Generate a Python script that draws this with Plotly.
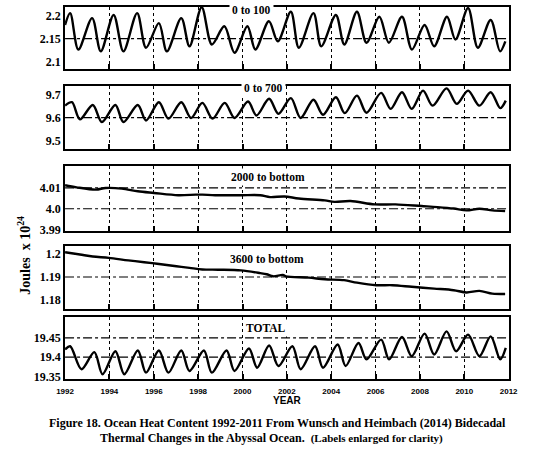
import plotly.graph_objects as go

# ---------------- data ----------------
years_0_100 = [1992.0, 1992.23, 1992.6, 1993.22, 1993.61, 1994.19, 1994.63, 1995.25, 1995.65,
               1996.23, 1996.59, 1997.24, 1997.61, 1998.16, 1998.62, 1999.18, 1999.64, 2000.22,
               2000.58, 2001.19, 2001.59, 2002.18, 2002.54, 2003.2, 2003.55, 2004.21, 2004.59,
               2005.16, 2005.59, 2006.17, 2006.6, 2007.19, 2007.64, 2008.21, 2008.64, 2009.22,
               2009.6, 2010.17, 2010.61, 2011.19, 2011.61, 2011.85]
heat_0_100 = [2.180, 2.206, 2.126, 2.195, 2.122, 2.202, 2.122, 2.206, 2.130, 2.184, 2.122,
              2.195, 2.133, 2.219, 2.137, 2.177, 2.119, 2.177, 2.126, 2.188, 2.144, 2.209,
              2.130, 2.206, 2.133, 2.202, 2.137, 2.209, 2.141, 2.198, 2.141, 2.198, 2.126,
              2.180, 2.133, 2.198, 2.148, 2.217, 2.130, 2.191, 2.122, 2.144]

years_0_700 = [1992.0, 1992.31, 1992.67, 1993.25, 1993.66, 1994.27, 1994.63, 1995.28, 1995.65,
               1996.23, 1996.66, 1997.24, 1997.68, 1998.19, 1998.65, 1999.2, 1999.64, 2000.25,
               2000.63, 2001.2, 2001.62, 2002.18, 2002.62, 2003.2, 2003.63, 2004.21, 2004.61,
               2005.16, 2005.59, 2006.25, 2006.68, 2007.19, 2007.63, 2008.14, 2008.57, 2009.2,
               2009.66, 2010.17, 2010.68, 2011.19, 2011.62, 2011.87]
heat_0_700 = [9.653, 9.668, 9.593, 9.656, 9.581, 9.656, 9.581, 9.656, 9.588, 9.668, 9.596,
              9.668, 9.599, 9.665, 9.596, 9.665, 9.599, 9.671, 9.610, 9.683, 9.617, 9.686,
              9.599, 9.679, 9.613, 9.690, 9.620, 9.697, 9.622, 9.709, 9.639, 9.712, 9.639,
              9.719, 9.653, 9.729, 9.661, 9.719, 9.653, 9.712, 9.642, 9.675]

years_2000 = [1992.0, 1992.52, 1993.39, 1993.83, 1994.56, 1995.28, 1996.01, 1997.1, 1997.9,
              1998.19, 1998.77, 1999.93, 2000.8, 2001.24, 2001.89, 2002.54, 2003.71, 2004.14,
              2004.87, 2005.96, 2006.9, 2008.07, 2008.79, 2009.52, 2010.1, 2010.68, 2011.26,
              2011.84]
heat_2000 = [4.0113, 4.0103, 4.0092, 4.0100, 4.0097, 4.0084, 4.0076, 4.0065, 4.0068, 4.0068,
             4.0065, 4.0065, 4.0065, 4.0056, 4.0059, 4.0049, 4.0040, 4.0033, 4.0037, 4.0021,
             4.0021, 4.0013, 4.0008, 4.0001, 3.9992, 4.0000, 3.9992, 3.9989]

years_3600 = [1992.0, 1992.67, 1993.25, 1993.97, 1994.85, 1995.57, 1996.15, 1997.02, 1997.61,
              1998.19, 1998.91, 1999.93, 2000.8, 2001.09, 2001.38, 2001.82, 2001.96, 2002.98,
              2003.71, 2004.58, 2005.16, 2006.03, 2006.76, 2007.63, 2008.64, 2009.52, 2010.1,
              2010.68, 2011.26, 2011.84]
heat_3600 = [1.2009, 1.1999, 1.1990, 1.1984, 1.1973, 1.1965, 1.1958, 1.1947, 1.1940, 1.1933,
             1.1932, 1.1929, 1.1917, 1.1912, 1.1903, 1.1909, 1.1903, 1.1897, 1.1890, 1.1886,
             1.1875, 1.1864, 1.1864, 1.1857, 1.1849, 1.1842, 1.1832, 1.1839, 1.1827, 1.1825]

years_total = [1992.0, 1992.23, 1992.74, 1993.32, 1993.69, 1994.27, 1994.67, 1995.28, 1995.65,
               1996.23, 1996.66, 1997.24, 1997.61, 1998.26, 1998.62, 1999.28, 1999.64, 2000.29,
               2000.66, 2001.2, 2001.62, 2002.25, 2002.62, 2003.27, 2003.63, 2004.29, 2004.65,
               2005.23, 2005.59, 2006.25, 2006.61, 2007.19, 2007.63, 2008.21, 2008.64, 2009.2,
               2009.63, 2010.17, 2010.68, 2011.19, 2011.62, 2011.87]
heat_total = [19.4197, 19.4282, 19.3685, 19.4128, 19.3556, 19.4154, 19.3556, 19.4172, 19.3597,
              19.4172, 19.3597, 19.4172, 19.3641, 19.4172, 19.3597, 19.4172, 19.3641, 19.4223,
              19.3726, 19.4300, 19.3769, 19.4282, 19.3685, 19.4282, 19.3726, 19.4326, 19.3769,
              19.4367, 19.3941, 19.4454, 19.3941, 19.4521, 19.4026, 19.4608, 19.4069, 19.4667,
              19.4154, 19.4582, 19.4026, 19.4538, 19.3941, 19.4238]

panel_titles = ["0 to 100", "0 to 700", "2000 to bottom", "3600 to bottom", "TOTAL"]
ytick_vals = [[2.1, 2.15, 2.2], [9.5, 9.6, 9.7], [3.99, 4.0, 4.01], [1.18, 1.19, 1.2],
              [19.35, 19.4, 19.45]]
ytick_text = [["2.1", "2.15", "2.2"], ["9.5", "9.6", "9.7"], ["3.99", "4.0", "4.01"],
              ["1.18", "1.19", "1.2"], ["19.35", "19.4", "19.45"]]
hgrid_vals = [[2.15], [9.6], [4.0, 4.01], [1.19], [19.4, 19.45]]
xtick_vals = list(range(1992, 2013, 2))
xtick_text = [str(v) for v in xtick_vals]
year_label = "YEAR"
yaxis_title = "Joules  x 10<sup>24</sup>"
caption_1 = "Figure 18. Ocean Heat Content 1992-2011 From Wunsch and Heimbach (2014) Bidecadal"
caption_2 = ("Thermal Changes in the Abyssal Ocean.  "
             "<span style='font-size:11px'>(Labels enlarged for clarity)</span>")

series = [(years_0_100, heat_0_100), (years_0_700, heat_0_700), (years_2000, heat_2000),
          (years_3600, heat_3600), (years_total, heat_total)]

# ---------------- layout ----------------
W, H = 537, 465
x_left, x_right = 58, 517
panel_px = [(7, 70), (87, 151), (168, 234), (249, 312), (320, 383)]
y_ranges = [[2.0826, 2.2196], [9.461, 9.739], [3.98905, 4.02048], [1.17609, 1.20348],
            [19.3436, 19.5051]]
title_pos = [(251, 0.945), (263, 0.97), (268, 0.833), (267, 0.794), (266, 0.81)]

SERIF = "Liberation Serif, DejaVu Serif, serif"
SANS = "Liberation Sans, Arial, sans-serif"

fig = go.Figure()
layout = dict(width=W, height=H, autosize=False, margin=dict(l=0, r=0, t=0, b=0),
              paper_bgcolor="white", plot_bgcolor="white", showlegend=False)
annotations = []
shapes = []
for i, (xs, ys) in enumerate(series):
    n = i + 1
    xa = "x" if n == 1 else f"x{n}"
    ya = "y" if n == 1 else f"y{n}"
    fig.add_trace(go.Scatter(x=xs, y=ys, xaxis=xa, yaxis=ya, mode="lines",
                             line=dict(color="black", width=2.4, shape="spline", smoothing=0.9),
                             hoverinfo="skip"))
    top, bot = panel_px[i]
    dom = [1 - bot / H, 1 - top / H]
    last = (n == 5)
    layout["xaxis" if n == 1 else f"xaxis{n}"] = dict(
        domain=[x_left / W, x_right / W], anchor=ya, range=[1992, 2012],
        tickvals=xtick_vals, ticktext=xtick_text, showticklabels=last,
        tickfont=dict(family=SANS, size=8, color="black", weight="bold"),
        ticks="inside", ticklen=5, tickwidth=2, tickcolor="black", ticklabelstandoff=4,
        showgrid=True, gridcolor="black", gridwidth=1, griddash="dot",
        showline=True, linewidth=2, linecolor="black", mirror=True, zeroline=False,
        fixedrange=True)
    layout["yaxis" if n == 1 else f"yaxis{n}"] = dict(
        domain=dom, anchor=xa, range=y_ranges[i], tickvals=ytick_vals[i],
        ticktext=ytick_text[i], showgrid=False, zeroline=False,
        tickfont=dict(family=SERIF, size=12, color="black", weight="bold"),
        showline=True, linewidth=2, linecolor="black", mirror=True, ticks="",
        fixedrange=True)
    for gv in hgrid_vals[i]:
        shapes.append(dict(type="line", xref=f"{xa} domain", yref=ya, x0=0, x1=1, y0=gv, y1=gv,
                           line=dict(color="black", width=1.2, dash="dashdot"), layer="below"))
    tx, ty = title_pos[i]
    annotations.append(dict(text=panel_titles[i], xref="paper", yref=f"{ya} domain",
                            x=tx / W, y=ty, xanchor="center", yanchor="middle", showarrow=False,
                            font=dict(family=SERIF, size=11.5, color="black", weight="bold"),
                            bgcolor="white", borderpad=2))

annotations.append(dict(text=year_label, xref="paper", yref="paper", x=288 / W, y=1 - 405 / H,
                        xanchor="center", yanchor="middle", showarrow=False,
                        font=dict(family=SANS, size=10, color="black", weight="bold")))
annotations.append(dict(text=yaxis_title, xref="paper", yref="paper", x=16 / W, y=1 - 258 / H,
                        xanchor="center", yanchor="middle", showarrow=False, textangle=-90,
                        font=dict(family=SERIF, size=14, color="black", weight="bold")))
annotations.append(dict(text=caption_1, xref="paper", yref="paper", x=278 / W, y=1 - 428 / H,
                        xanchor="center", yanchor="middle", showarrow=False,
                        font=dict(family=SERIF, size=12, color="black", weight="bold")))
annotations.append(dict(text=caption_2, xref="paper", yref="paper", x=272 / W, y=1 - 443 / H,
                        xanchor="center", yanchor="middle", showarrow=False,
                        font=dict(family=SERIF, size=12, color="black", weight="bold")))
layout["annotations"] = annotations
layout["shapes"] = shapes
fig.update_layout(**layout)

fig.write_html("out.html", config={"displayModeBar": False},
               post_script="document.body.style.margin='0';")
